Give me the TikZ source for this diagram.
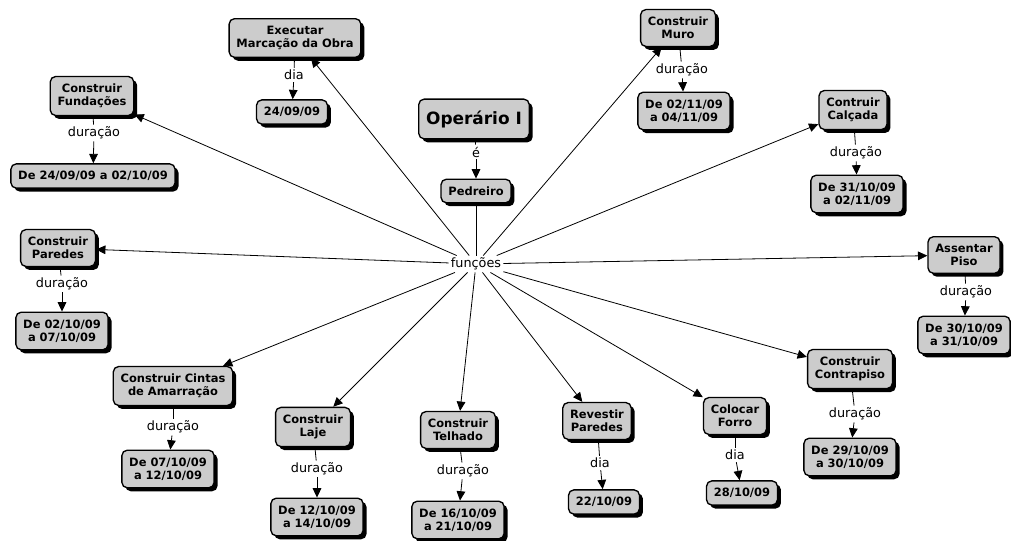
\documentclass[tikz,border=0pt]{standalone}
\usepackage{fontspec}
\setmainfont{DejaVu Sans}
\usetikzlibrary{arrows.meta,shadows}
\definecolor{cmap-gray}{RGB}{204,204,204}

\begin{document}
\begin{tikzpicture}[x=0.75pt, y=-0.75pt,
    concept/.style={draw, line width=1pt, fill=cmap-gray, rounded corners=4pt, align=center,
        font=\bfseries\fontsize{8.6}{10}\selectfont, inner xsep=5.5pt, inner ysep=5.5pt,
        drop shadow={shadow xshift=2.6pt, shadow yshift=-2.6pt, fill=black, opacity=1}},
    linkword/.style={font=\fontsize{9.6}{11}\selectfont, inner sep=1.5pt},
    link/.style={line width=0.6pt},
    arrow/.style={link, -{Triangle[length=7pt,width=6.5pt]}}]
    \useasboundingbox (0,0) rectangle (1011,541);

    % Root concept
    \node[concept, font=\bfseries\fontsize{12.7}{15}\selectfont, inner ysep=8.5pt] (operario) at (474,119) {Operário I};
    \node[linkword] (l-e) at (476,152) {é};
    \node[concept] (pedreiro) at (476,191) {Pedreiro};
    \node[linkword] (funcoes) at (476,264) {funções};

    % Upper functions
    \node[concept] (marcacao) at (295,38) {Executar\\Marcação da Obra};
    \node[linkword] (l-marcacao) at (294,75) {dia};
    \node[concept] (d-marcacao) at (292,112) {24/09/09};

    \node[concept] (fundacoes) at (92,96) {Construir\\Fundações};
    \node[linkword] (l-fundacoes) at (94,133) {duração};
    \node[concept] (d-fundacoes) at (93,176) {De 24/09/09 a 02/10/09};

    \node[concept] (muro) at (678,28) {Construir\\Muro};
    \node[linkword] (l-muro) at (682,70) {duração};
    \node[concept] (d-muro) at (684,111) {De 02/11/09\\a 04/11/09};

    \node[concept] (calcada) at (853,110) {Contruir\\Calçada};
    \node[linkword] (l-calcada) at (856,153) {duração};
    \node[concept] (d-calcada) at (857,194) {De 31/10/09\\a 02/11/09};

    % Side functions
    \node[concept] (paredes) at (58,248) {Construir\\Paredes};
    \node[linkword] (l-paredes) at (62,284) {duração};
    \node[concept] (d-paredes) at (62,331) {De 02/10/09\\a 07/10/09};

    \node[concept] (piso) at (964,255) {Assentar\\Piso};
    \node[linkword] (l-piso) at (966,292) {duração};
    \node[concept] (d-piso) at (964,335) {De 30/10/09\\a 31/10/09};

    % Lower functions
    \node[concept] (cintas) at (173,386) {Construir Cintas\\de Amarração};
    \node[linkword] (l-cintas) at (173,427) {duração};
    \node[concept] (d-cintas) at (168,469) {De 07/10/09\\a 12/10/09};

    \node[concept] (laje) at (313,427) {Construir\\Laje};
    \node[linkword] (l-laje) at (317,469) {duração};
    \node[concept] (d-laje) at (317,517) {De 12/10/09\\a 14/10/09};

    \node[concept] (telhado) at (458,430) {Construir\\Telhado};
    \node[linkword] (l-telhado) at (463,471) {duração};
    \node[concept] (d-telhado) at (458,520) {De 16/10/09\\a 21/10/09};

    \node[concept] (revestir) at (597,421) {Revestir\\Paredes};
    \node[linkword] (l-revestir) at (600,463) {dia};
    \node[concept] (d-revestir) at (604,502) {22/10/09};

    \node[concept] (forro) at (735,416) {Colocar\\Forro};
    \node[linkword] (l-forro) at (735,455) {dia};
    \node[concept] (d-forro) at (742,493) {28/10/09};

    \node[concept] (contrapiso) at (850,369) {Construir\\Contrapiso};
    \node[linkword] (l-contrapiso) at (855,414) {duração};
    \node[concept] (d-contrapiso) at (850,457) {De 29/10/09\\a 30/10/09};

    % Connections
    \draw[link] (operario) -- (l-e);
    \draw[arrow] (l-e) -- (pedreiro);
    \draw[link] (pedreiro) -- (funcoes);

    \draw[arrow] (funcoes) -- (marcacao);
    \draw[arrow] (funcoes) -- (fundacoes);
    \draw[arrow] (funcoes) -- (muro);
    \draw[arrow] (funcoes) -- (calcada);
    \draw[arrow] (funcoes) -- (paredes);
    \draw[arrow] (funcoes) -- (piso);
    \draw[arrow] (funcoes) -- (cintas);
    \draw[arrow] (funcoes) -- (laje);
    \draw[arrow] (funcoes) -- (telhado);
    \draw[arrow] (funcoes) -- (revestir);
    \draw[arrow] (funcoes) -- (forro);
    \draw[arrow] (funcoes) -- (contrapiso);

    \draw[link] (marcacao) -- (l-marcacao);
    \draw[arrow] (l-marcacao) -- (d-marcacao);
    \draw[link] (fundacoes) -- (l-fundacoes);
    \draw[arrow] (l-fundacoes) -- (d-fundacoes);
    \draw[link] (muro) -- (l-muro);
    \draw[arrow] (l-muro) -- (d-muro);
    \draw[link] (calcada) -- (l-calcada);
    \draw[arrow] (l-calcada) -- (d-calcada);
    \draw[link] (paredes) -- (l-paredes);
    \draw[arrow] (l-paredes) -- (d-paredes);
    \draw[link] (piso) -- (l-piso);
    \draw[arrow] (l-piso) -- (d-piso);
    \draw[link] (cintas) -- (l-cintas);
    \draw[arrow] (l-cintas) -- (d-cintas);
    \draw[link] (laje) -- (l-laje);
    \draw[arrow] (l-laje) -- (d-laje);
    \draw[link] (telhado) -- (l-telhado);
    \draw[arrow] (l-telhado) -- (d-telhado);
    \draw[link] (revestir) -- (l-revestir);
    \draw[arrow] (l-revestir) -- (d-revestir);
    \draw[link] (forro) -- (l-forro);
    \draw[arrow] (l-forro) -- (d-forro);
    \draw[link] (contrapiso) -- (l-contrapiso);
    \draw[arrow] (l-contrapiso) -- (d-contrapiso);
\end{tikzpicture}
\end{document}
